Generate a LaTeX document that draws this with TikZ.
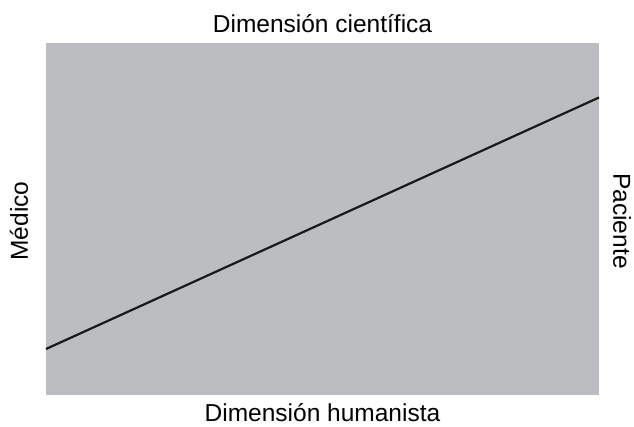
\documentclass[tikz,border=0pt]{standalone}
\usepackage{fontspec}
\setmainfont{Liberation Sans}
\definecolor{panel}{RGB}{188,189,193}
\begin{document}
\begin{tikzpicture}[x=1pt,y=-1pt,
  lbl/.style={font=\fontsize{24.5}{28}\selectfont, inner sep=0pt}]
\useasboundingbox (0,0) rectangle (634,427);
\fill[panel] (46,43) rectangle (599,395);
\coordinate (a) at (46,349);
\coordinate (b) at (599,97.5);
\draw[line width=2.2pt, black!90] (a) -- (b);
\node[lbl] (top) at (322.5,24) {Dimensión científica};
\node[lbl] (bot) at (322.5,413) {Dimensión humanista};
\node[lbl, rotate=90] (med) at (19,221) {Médico};
\node[lbl, rotate=-90] (pac) at (622,221) {Paciente};
\end{tikzpicture}
\end{document}
